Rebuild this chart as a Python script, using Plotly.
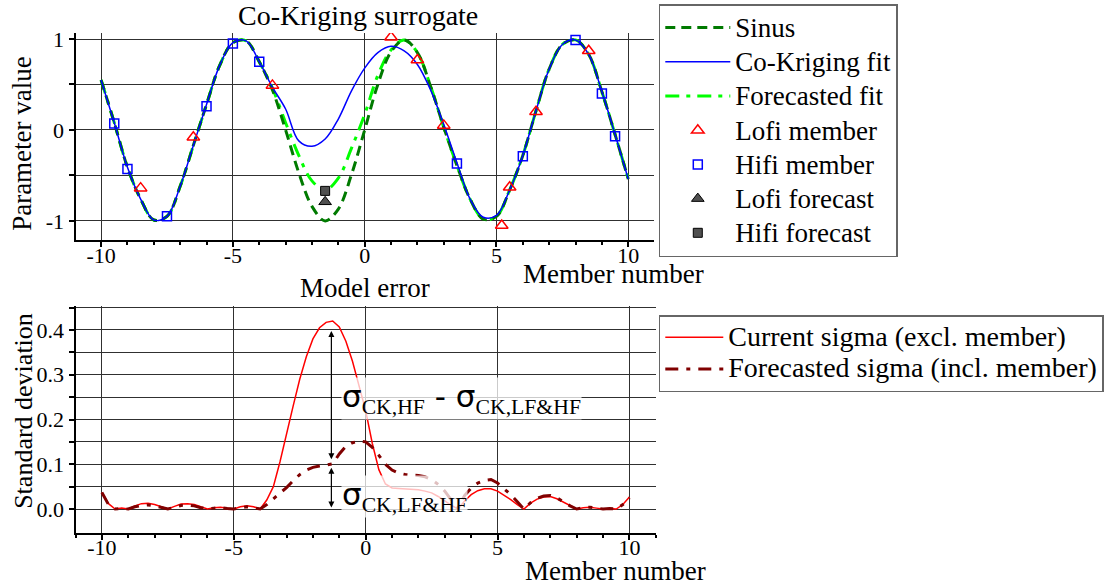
import plotly.graph_objects as go

# ---------------- data ----------------
x_fit = [-10, -9.5, -9, -8.5, -8, -7.5, -7, -6.5, -6, -5.5, -5, -4.5, -4, -3.5, -3, -2.5, -2,
         -1.5, -1, -0.5, 0, 0.5, 1, 1.5, 2, 2.5, 3, 3.5, 4, 4.5, 5, 5.5, 6, 6.5, 7, 7.5, 8,
         8.5, 9, 9.5, 10]
sinus = [0.55, 0.08, -0.41, -0.76, -0.99, -0.95, -0.62, -0.17, 0.28, 0.71, 0.96, 0.98, 0.75,
         0.44, 0.0, -0.47, -0.84, -1.0, -0.87, -0.49, 0.0, 0.5, 0.86, 0.99, 0.85, 0.48, 0.03,
         -0.39, -0.76, -0.98, -0.95, -0.66, -0.28, 0.21, 0.67, 0.94, 0.99, 0.83, 0.42, -0.05, -0.54]
ck_fit = [0.55, 0.08, -0.41, -0.76, -0.99, -0.95, -0.62, -0.17, 0.28, 0.71, 0.96, 0.98, 0.75,
          0.47, 0.23, -0.12, -0.18, -0.1, 0.12, 0.43, 0.68, 0.85, 0.92, 0.87, 0.72, 0.44, 0.06,
          -0.36, -0.76, -0.96, -0.94, -0.66, -0.28, 0.21, 0.67, 0.94, 0.99, 0.83, 0.42, -0.05, -0.54]
fc_fit = [0.55, 0.08, -0.41, -0.76, -0.99, -0.95, -0.62, -0.17, 0.28, 0.71, 0.96, 0.98, 0.75,
          0.46, 0.08, -0.28, -0.56, -0.66, -0.53, -0.2, 0.17, 0.6, 0.88, 0.99, 0.85, 0.48, 0.03,
          -0.39, -0.76, -0.98, -0.95, -0.66, -0.28, 0.21, 0.67, 0.94, 0.99, 0.83, 0.42, -0.05, -0.54]

lofi_x = [-8.5, -6.5, -3.5, 1, 2, 3, 5.2, 5.5, 6.5, 8.5]
lofi_y = [-0.64, -0.08, 0.49, 1.02, 0.77, 0.05, -1.05, -0.63, 0.2, 0.87]
hifi_x = [-9.5, -9, -7.5, -6, -5, -4, 3.5, 6, 8, 9, 9.5]
hifi_y = [0.07, -0.43, -0.95, 0.26, 0.95, 0.75, -0.37, -0.29, 0.99, 0.4, -0.07]
lofi_fc_x = [-1.5]
lofi_fc_y = [-0.79]
hifi_fc_x = [-1.5]
hifi_fc_y = [-0.67]

x_sig = [-10, -9.75, -9.5, -9.25, -9, -8.75, -8.5, -8.25, -8, -7.75, -7.5, -7.25, -7, -6.75,
         -6.5, -6.25, -6, -5.75, -5.5, -5.25, -5, -4.75, -4.5, -4.25, -4, -3.75, -3.5, -3.25,
         -3, -2.75, -2.5, -2.25, -2, -1.75, -1.5, -1.25, -1, -0.75, -0.5, -0.25, 0, 0.25, 0.5,
         0.75, 1, 1.25, 1.5, 1.75, 2, 2.25, 2.5, 2.75, 3, 3.25, 3.5, 3.75, 4, 4.25, 4.5, 4.75,
         5, 5.25, 5.5, 5.75, 6, 6.25, 6.5, 6.75, 7, 7.25, 7.5, 7.75, 8, 8.25, 8.5, 8.75, 9,
         9.25, 9.5, 9.75, 10]
sigma_cur = [0.037, 0.012, 0.0, 0.002, 0.0, 0.007, 0.012, 0.013, 0.01, 0.005, 0.0, 0.006, 0.011,
             0.012, 0.01, 0.005, 0.0, 0.003, 0.004, 0.002, 0.0, 0.005, 0.0075, 0.005, 0.0, 0.02,
             0.05, 0.105, 0.17, 0.23, 0.29, 0.34, 0.38, 0.405, 0.417, 0.42, 0.407, 0.375, 0.33,
             0.275, 0.22, 0.147, 0.088, 0.056, 0.047, 0.046, 0.045, 0.044, 0.043, 0.04, 0.036,
             0.028, 0.017, 0.008, 0.0, 0.018, 0.032, 0.041, 0.045, 0.045, 0.04, 0.031, 0.021,
             0.01, 0.0, 0.013, 0.022, 0.027, 0.028, 0.023, 0.015, 0.007, 0.0, 0.003, 0.004,
             0.002, 0.0, 0.001, 0.0, 0.01, 0.027]
sigma_fc = [0.037, 0.01, 0.0, 0.001, 0.0, 0.005, 0.008, 0.009, 0.007, 0.003, 0.0, 0.004, 0.008,
            0.009, 0.007, 0.003, 0.0, 0.002, 0.003, 0.001, 0.0, 0.003, 0.005, 0.003, 0.0, 0.01,
            0.022, 0.035, 0.048, 0.063, 0.077, 0.087, 0.093, 0.096, 0.098, 0.101, 0.123, 0.14,
            0.148, 0.152, 0.15, 0.138, 0.12, 0.1, 0.087, 0.08, 0.077, 0.076, 0.075, 0.072, 0.066,
            0.055, 0.04, 0.02, 0.002, 0.03, 0.047, 0.058, 0.064, 0.066, 0.058, 0.045, 0.032,
            0.016, 0.0, 0.014, 0.024, 0.029, 0.03, 0.025, 0.016, 0.007, 0.0, 0.003, 0.004,
            0.002, 0.0, 0.001, 0.0, 0.01, 0.025]

x_ticks = [-10, -5, 0, 5, 10]
x_ticktext = ["-10", "-5", "0", "5", "10"]
y1_ticks = [-1, -0.5, 0, 0.5, 1]
y1_ticktext = ["-1", "", "0", "", "1"]
y2_ticks = [0, 0.05, 0.1, 0.15, 0.2, 0.25, 0.3, 0.35, 0.4, 0.45]
y2_ticktext = ["0.0", "", "0.1", "", "0.2", "", "0.3", "", "0.4", ""]

SERIF = "Liberation Serif"


def lg(t, size=27):
    return "<span style='font-size:%dpx'>" % size + t + "</span>"


fig = go.Figure()

# ---- top plot ----
fig.add_trace(go.Scatter(x=x_fit, y=fc_fit, mode="lines", name=lg("Forecasted fit"),
                         line=dict(color="#00ff00", width=3, dash="14px,7px,4px,7px", shape="spline"),
                         xaxis="x", yaxis="y", legend="legend", legendrank=3))
fig.add_trace(go.Scatter(x=x_fit, y=sinus, mode="lines", name=lg("Sinus"),
                         line=dict(color="#007a00", width=3, dash="10px,6px", shape="spline"),
                         xaxis="x", yaxis="y", legend="legend", legendrank=1))
fig.add_trace(go.Scatter(x=x_fit, y=ck_fit, mode="lines", name=lg("Co-Kriging fit"),
                         line=dict(color="#0000ff", width=1.5, shape="spline"),
                         xaxis="x", yaxis="y", legend="legend", legendrank=2))
fig.add_trace(go.Scatter(x=lofi_x, y=lofi_y, mode="markers", name=lg("Lofi member"),
                         marker=dict(symbol="triangle-up-open", size=11, color="#ff0000",
                                     line=dict(width=1.5)),
                         xaxis="x", yaxis="y", legend="legend", legendrank=4))
fig.add_trace(go.Scatter(x=hifi_x, y=hifi_y, mode="markers", name=lg("Hifi member"),
                         marker=dict(symbol="square-open", size=9, color="#0000ff",
                                     line=dict(width=1.5)),
                         xaxis="x", yaxis="y", legend="legend", legendrank=5))
fig.add_trace(go.Scatter(x=lofi_fc_x, y=lofi_fc_y, mode="markers", name=lg("Lofi forecast"),
                         marker=dict(symbol="triangle-up", size=11, color="#505050",
                                     line=dict(width=1, color="#000000")),
                         xaxis="x", yaxis="y", legend="legend", legendrank=6))
fig.add_trace(go.Scatter(x=hifi_fc_x, y=hifi_fc_y, mode="markers", name=lg("Hifi forecast"),
                         marker=dict(symbol="square", size=9, color="#505050",
                                     line=dict(width=1, color="#000000")),
                         xaxis="x", yaxis="y", legend="legend", legendrank=7))

# ---- bottom plot ----
fig.add_trace(go.Scatter(x=x_sig, y=sigma_cur, mode="lines",
                         name=lg("Current sigma (excl. member)", 28),
                         line=dict(color="#ff0000", width=1.5),
                         xaxis="x2", yaxis="y2", legend="legend2"))
fig.add_trace(go.Scatter(x=x_sig, y=sigma_fc, mode="lines",
                         name=lg("Forecasted sigma (incl. member)", 28),
                         line=dict(color="#800000", width=3, dash="13px,8px,4px,8px"),
                         xaxis="x2", yaxis="y2", legend="legend2"))

W, H = 1104, 585


def px_x(p):
    return p / W


def px_y(p):
    return 1 - p / H


axis_common = dict(showline=True, linecolor="black", linewidth=2, mirror=False, zeroline=False,
                   showgrid=True, gridcolor="#303030", gridwidth=1, ticks="outside",
                   tickcolor="black", ticklen=5, tickwidth=1.5,
                   tickfont=dict(family=SERIF, size=22, color="black"), automargin=False)
minor_x = dict(dtick=1, tick0=0, ticks="outside", ticklen=3, tickcolor="black", showgrid=False)

fig.update_layout(
    width=W, height=H,
    margin=dict(l=0, r=0, t=0, b=0),
    paper_bgcolor="white", plot_bgcolor="white",
    font=dict(family=SERIF, color="black"),
    showlegend=True,
    xaxis=dict(axis_common, domain=[px_x(76), px_x(658)], range=[-10.97, 10.97], anchor="y",
               tickmode="array", tickvals=x_ticks, ticktext=x_ticktext,
               ticklabelstandoff=-10, minor=minor_x),
    yaxis=dict(axis_common, domain=[px_y(240), px_y(33)], range=[-1.21, 1.066], anchor="x",
               tickmode="array", tickvals=y1_ticks, ticktext=y1_ticktext),
    xaxis2=dict(axis_common, domain=[px_x(76), px_x(660)], range=[-11.0, 11.0], anchor="y2",
                tickmode="array", tickvals=x_ticks, ticktext=x_ticktext,
                ticklabelstandoff=-11, minor=minor_x),
    yaxis2=dict(axis_common, domain=[px_y(533), px_y(306)], range=[-0.0536, 0.4536], anchor="x2",
                tickmode="array", tickvals=y2_ticks, ticktext=y2_ticktext),
    legend=dict(x=px_x(663), y=px_y(4), xanchor="left", yanchor="top",
                font=dict(family=SERIF, size=24, color="black"),
                bgcolor="white", bordercolor="#666666", borderwidth=1.5,
                itemwidth=65, traceorder="normal"),
    legend2=dict(x=px_x(663), y=px_y(315), xanchor="left", yanchor="top",
                 font=dict(family=SERIF, size=22, color="black"),
                 bgcolor="white", bordercolor="#666666", borderwidth=1.5,
                 itemwidth=58, traceorder="normal"),
)

ann = []


def txt(text, x, y, size, angle=0):
    ann.append(dict(text=text, x=px_x(x), y=px_y(y), xref="paper", yref="paper",
                    xanchor="center", yanchor="middle", showarrow=False, textangle=angle,
                    font=dict(family=SERIF, size=size, color="black")))


txt("Co-Kriging surrogate", 360, 15, 28)
txt("Parameter value", 22, 143, 27, -90)
txt("Member number", 617, 274, 27)
txt("Model error", 367, 288, 27)
txt("Standard deviation", 24, 411, 26, -90)
txt("Member number", 619, 571, 27)

# double-headed arrows
for y_head, y_tail in [(0.398, 0.108), (0.092, 0.0)]:
    ann.append(dict(text="", x=-1.3, y=y_head, ax=-1.3, ay=y_tail, xref="x2", yref="y2",
                    axref="x2", ayref="y2", showarrow=True, arrowhead=2, startarrowhead=2,
                    arrowside="end+start", arrowsize=1, startarrowsize=1, arrowwidth=1.2,
                    arrowcolor="black"))

sig = "<span style='font-family:DejaVu Sans;font-size:31px'>σ</span>"
hy = "<span style='font-family:DejaVu Sans;font-size:31px'> - </span>"
ann.append(dict(text=sig + "<sub>CK,HF</sub>" + hy + sig + "<sub>CK,LF&amp;HF</sub>",
                x=-0.94, y=0.247, xref="x2", yref="y2", xanchor="left", yanchor="middle",
                showarrow=False, bgcolor="rgba(255,255,255,0.75)", borderpad=0,
                font=dict(family=SERIF, size=31, color="black")))
ann.append(dict(text=sig + "<sub>CK,LF&amp;HF</sub>",
                x=-0.94, y=0.028, xref="x2", yref="y2", xanchor="left", yanchor="middle",
                showarrow=False, bgcolor="rgba(255,255,255,0.75)", borderpad=0,
                font=dict(family=SERIF, size=31, color="black")))

fig.update_layout(annotations=ann)

fig.write_html("out.html")
